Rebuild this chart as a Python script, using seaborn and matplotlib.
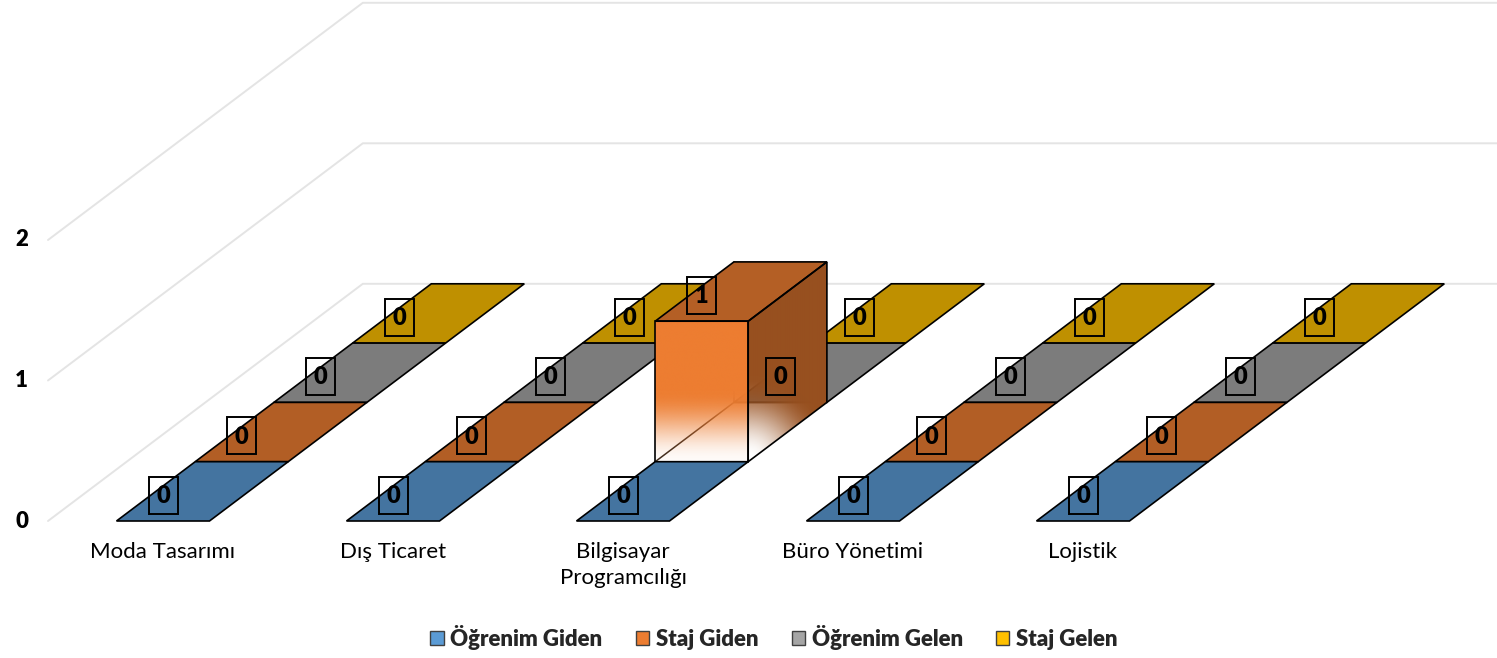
import numpy as np
import matplotlib.pyplot as plt
import matplotlib.colors as mcolors
from matplotlib.patches import Polygon, Rectangle, Patch
import seaborn as sns

# data
categories = ["Moda Tasarımı", "Dış Ticaret", "Bilgisayar\nProgramcılığı", "Büro Yönetimi", "Lojistik"]
series = ["Öğrenim Giden", "Staj Giden", "Öğrenim Gelen", "Staj Gelen"]
ogrenim_giden = [0, 0, 0, 0, 0]
staj_giden = [0, 0, 1, 0, 0]
ogrenim_gelen = [0, 0, 0, 0, 0]
staj_gelen = [0, 0, 0, 0, 0]
y_ticks = [0, 1, 2]

values = [ogrenim_giden, staj_giden, ogrenim_gelen, staj_gelen]

sns.set_theme(style="white")
plt.rcParams["font.family"] = ["Lato", "DejaVu Sans"]
palette = sns.color_palette(["#5B9BD5", "#ED7D31", "#A5A5A5", "#FFC000"])

# oblique projection layout (pixels)
W, H = 1497, 658
X0, Y0 = 48, 521          # front-left corner of the floor
CAT_W = 230               # width of one category slot
BAR_W = 93
DX, DY = 78.7, 59.3       # depth step of one series row
UNIT = 140.5              # pixels per value unit
N_ROWS = len(series)


def proj(x, row, v):
    return X0 + x + row * DX, Y0 - row * DY - v * UNIT


def shade(c, f):
    return tuple(np.clip(np.array(mcolors.to_rgb(c)) * f, 0, 1))


def smooth(t):
    t = np.clip(t, 0, 1)
    return t * t * (3 - 2 * t)


fig = plt.figure(figsize=(W / 100, H / 100), dpi=100)
ax = fig.add_axes([0, 0, 1, 1])
ax.set_xlim(0, W)
ax.set_ylim(H, 0)
ax.axis("off")

# walls grid
grid_color = "#E4E4E4"
for v in y_ticks:
    pts = [proj(0, 0, v), proj(0, N_ROWS, v), proj(len(categories) * CAT_W, N_ROWS, v)]
    ax.plot([p[0] for p in pts], [p[1] for p in pts], color=grid_color, lw=1.4, zorder=1)
    ax.text(X0 - 20, proj(0, 0, v)[1], str(v), ha="right", va="center",
            fontsize=16, fontweight="heavy", color="black")


def gradient_face(verts, alpha_fn, color, z):
    poly = Polygon(verts, closed=True, fc="none", ec="none", zorder=z)
    ax.add_patch(poly)
    xs_ = [p[0] for p in verts]
    ys_ = [p[1] for p in verts]
    x0, x1, y0, y1 = min(xs_), max(xs_), min(ys_), max(ys_)
    gx, gy = np.meshgrid(np.linspace(x0, x1, 200), np.linspace(y0, y1, 200))
    img = np.zeros((200, 200, 4))
    img[..., :3] = mcolors.to_rgb(color)
    img[..., 3] = alpha_fn(gx, gy)
    im = ax.imshow(img, extent=(x0, x1, y1, y0), origin="upper", aspect="auto",
                   interpolation="bilinear", zorder=z)
    im.set_clip_path(poly)


for j in reversed(range(N_ROWS)):
    z = 10 + (N_ROWS - j) * 10
    base = palette[j]
    for i, v in enumerate(values[j]):
        left = i * CAT_W + (CAT_W - BAR_W) / 2
        right = left + BAR_W
        if v == 0:
            tile = [proj(left, j, 0), proj(right, j, 0), proj(right, j + 1, 0), proj(left, j + 1, 0)]
            ax.add_patch(Polygon(tile, closed=True, fc=shade(base, 0.75), ec="black", lw=1.2, zorder=z))
            continue
        # hidden edges seen through the faded bottom
        a, b, c = proj(left, j, 0), proj(left, j + 1, 0), proj(right, j + 1, 0)
        d = proj(left, j + 1, v)
        ax.plot([a[0], b[0], c[0]], [a[1], b[1], c[1]], color="#3b2a1e", lw=1.1, zorder=z + 1)
        ax.plot([b[0], d[0]], [b[1], d[1]], color="#3b2a1e", lw=1.1, zorder=z + 1)

        front = [proj(left, j, 0), proj(right, j, 0), proj(right, j, v), proj(left, j, v)]
        side = [proj(right, j, 0), proj(right, j + 1, 0), proj(right, j + 1, v), proj(right, j, v)]
        top = [proj(left, j, v), proj(right, j, v), proj(right, j + 1, v), proj(left, j + 1, v)]

        fy = front[0][1]
        gradient_face(front, lambda gx, gy: 0.03 + 0.97 * smooth((fy - gy) / (0.5 * v * UNIT)),
                      base, z + 2)
        cx, cy = side[0]
        gradient_face(side, lambda gx, gy: smooth((np.hypot(gx - cx, gy - cy) - 5) / 80),
                      shade(base, 0.64), z + 2)
        ax.add_patch(Polygon(top, closed=True, fc=shade(base, 0.76), ec="black", lw=1.2, zorder=z + 3))
        for face in (front, side):
            ax.add_patch(Polygon(face, closed=True, fc="none", ec="black", lw=1.2, zorder=z + 3))

# data labels
for j in range(N_ROWS):
    for i, v in enumerate(values[j]):
        left = i * CAT_W + (CAT_W - BAR_W) / 2
        lx, ly = proj(left + BAR_W / 2, j, v)
        ly -= 26
        ax.add_patch(Rectangle((lx - 14.5, ly - 18.5), 29, 37, fc="none", ec="black", lw=1.4, zorder=100))
        ax.text(lx, ly + 1, str(v), ha="center", va="center", fontsize=17, fontweight="heavy",
                color="black", zorder=101)

# category labels
for i, name in enumerate(categories):
    cx = proj(i * CAT_W + CAT_W / 2, 0, 0)[0]
    ax.text(cx, Y0 + 21, name, ha="center", va="top", fontsize=16, linespacing=1.35, color="black")

handles = [Patch(facecolor=palette[k], edgecolor="#404040", lw=1) for k in range(N_ROWS)]
ax.legend(handles, series, loc="center", bbox_to_anchor=(774 / W, 1 - 637 / H), ncol=4,
          frameon=False, prop={"weight": "heavy", "size": 16}, handlelength=0.6, handleheight=0.6,
          handletextpad=0.3, columnspacing=1.5)

fig.savefig("out.png", dpi=100, facecolor="white")
